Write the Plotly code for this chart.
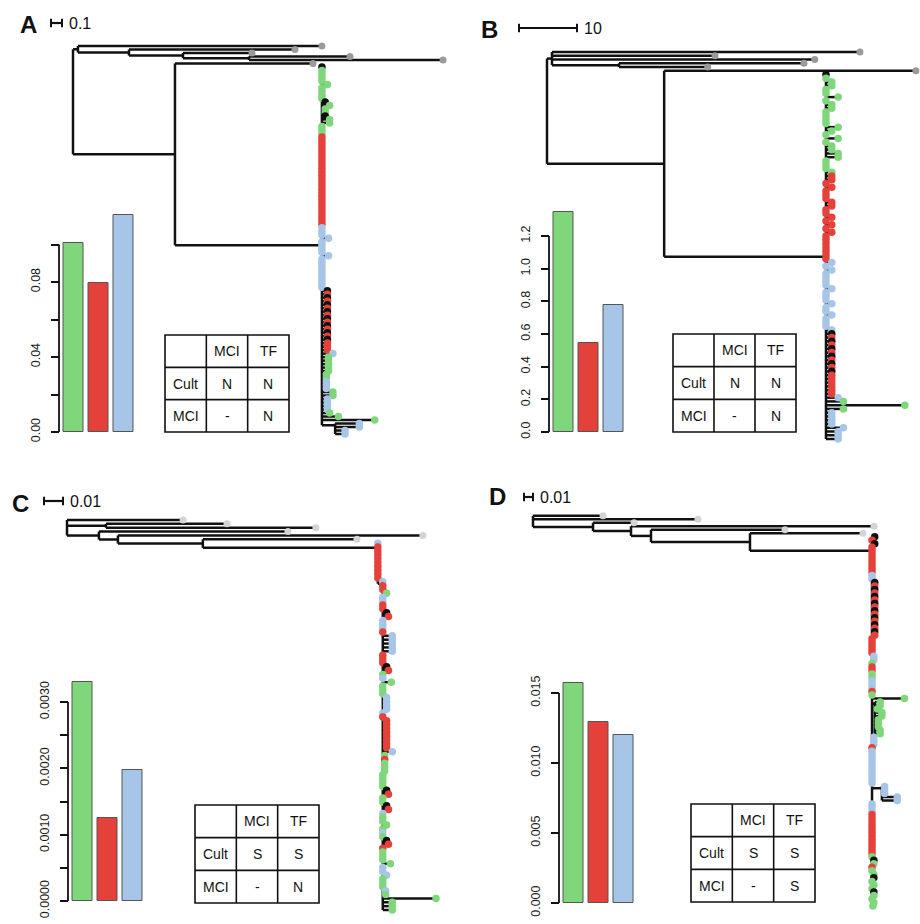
import plotly.graph_objects as go

# ======================= DATA =======================
groups = ["Cult", "MCI", "TF"]

A_bar_values = [0.101, 0.0795, 0.116]
B_bar_values = [1.347, 0.545, 0.778]
C_bar_values = [0.0033, 0.00125, 0.00198]
D_bar_values = [0.01571, 0.01293, 0.0120]

A_tick_values = [0.0, 0.02, 0.04, 0.06, 0.08, 0.10]
A_tick_labels = ["0.00", "", "0.04", "", "0.08", ""]
B_tick_values = [0.0, 0.2, 0.4, 0.6, 0.8, 1.0, 1.2]
B_tick_labels = ["0.0", "0.2", "0.4", "0.6", "0.8", "1.0", "1.2"]
C_tick_values = [0.0, 0.0005, 0.001, 0.0015, 0.002, 0.0025, 0.003]
C_tick_labels = ["0.0000", "", "0.0010", "", "0.0020", "", "0.0030"]
D_tick_values = [0.0, 0.005, 0.010, 0.015]
D_tick_labels = ["0.000", "0.005", "0.010", "0.015"]

table_header = ["", "MCI", "TF"]
A_table_rows = [["Cult", "N", "N"], ["MCI", "-", "N"]]
B_table_rows = [["Cult", "N", "N"], ["MCI", "-", "N"]]
C_table_rows = [["Cult", "S", "S"], ["MCI", "-", "N"]]
D_table_rows = [["Cult", "S", "S"], ["MCI", "-", "S"]]

A_scale_length, A_scale_label = 0.1, "0.1"
B_scale_length, B_scale_label = 10, "10"
C_scale_length, C_scale_label = 0.01, "0.01"
D_scale_length, D_scale_label = 0.01, "0.01"

# outgroup topology with branch lengths (IN = the sampled clade)
A_newick = "((o:2.218,(o:1.509,(o:0.627,(o:0.918,o:1.764):0.6):0.491):0.464):0.045,(o:1.255,IN:1.336):0.927);"
B_newick = "((o:53.1,o:28.1,o:45.3,(o:31.9,o:15.3):11.55):0.86,(o:43.4,IN:27.9):20.2);"
C_newick = "(o:0.0611,(o:0.0637,o:0.1105):0.0205,(o:0.0995,(o:0.1605,(o:0.0811,IN:0.0921):0.0447):0.01):0.0168);"
D_newick = "(o:0.0778,o:0.1833,(o:0.0456,(o:0.27,(o:0.1489,(o:0.1256,IN:0.1356):0.11):0.0222):0.0422):0.0667);"

# row (within the clade) at which the clade's root node sits
A_clade_node_row = 51
B_clade_node_row = 48.5
C_clade_node_row = 1.2
D_clade_node_row = 4

# clade tips, top to bottom: (tip colours, tip branch length, sub-clade depth)
# g = green, r = red, b = blue, k = black
A_clade_runs = [
    ("k", 0, 0), ("gggg", 0, 0), ("g", 0.05, 0), ("gggg", 0, 0), ("k", 0.03, 0), ("g", 0.07, 0),
    ("gg", 0.03, 0), ("k", 0.03, 0), ("gg", 0.07, 0), ("ggg", 0, 0),
    ("rrrrrrrrrrrrrrrrrrrrrrrrrr", 0, 0),
    ("bbb", 0, 0), ("b", 0.06, 0), ("bbbb", 0, 0), ("b", 0.06, 0), ("bbbbbbbbb", 0, 0),
    ("krkrkrkrkrkrkrkr", 0.05, 0), ("rr", 0.05, 0), ("b", 0.1, 0), ("ggggg", 0.06, 0),
    ("gg", 0.04, 0), ("bbb", 0.04, 0), ("gg", 0.1, 0), ("bbbb", 0.05, 0), ("g", 0.07, 0),
    ("g", 0.15, 0), ("g", 0.48, 0), ("bb", 0.22, 0.12), ("bb", 0.09, 0.12),
]
B_clade_runs = [
    ("k", 0, 0), ("g", 0, 0), ("gg", 1.0, 0), ("gg", 0, 0), ("g", 2.1, 0), ("g", 0, 0), ("gg", 1.0, 0),
    ("gggg", 0, 0), ("g", 2.1, 0), ("g", 1.0, 0), ("g", 0, 0), ("g", 2.1, 0), ("g", 0, 0),
    ("gg", 1.0, 0), ("gg", 2.1, 0), ("ggg", 0, 0), ("g", 1.0, 0),
    ("rr", 1.0, 0), ("r", 0, 0), ("r", 1.0, 0), ("rrr", 0, 0), ("rr", 1.0, 0), ("rr", 0, 0),
    ("r", 1.0, 0), ("r", 0, 0), ("r", 1.0, 0), ("r", 0, 0), ("r", 1.0, 0), ("rrrrrrr", 0, 0),
    ("b", 1.0, 0), ("b", 0, 0), ("b", 1.0, 0), ("bbbb", 0, 0), ("b", 1.0, 0), ("bbb", 0, 0),
    ("b", 1.0, 0), ("bb", 0, 0), ("b", 1.0, 0), ("bbb", 0, 0), ("b", 1.0, 0),
    ("krkrkrkrkrkr", 1.0, 0), ("rrrrr", 1.0, 0),
    ("b", 2.1, 0), ("g", 3.0, 0), ("g", 13.6, 0), ("g", 3.0, 0), ("bbbb", 1.0, 0), ("b", 3.0, 0),
    ("bbb", 2.1, 0),
]
C_clade_runs = [
    ("b", 0, 0), ("rrrrrrrrr", 0, 0),
    ("br", 0, 0.0026), ("r", 0, 0.0026), ("g", 0.002, 0.0026), ("bbrr", 0, 0.0026),
    ("k", 0.002, 0.0026), ("r", 0.003, 0.0026), ("bbb", 0, 0.0026), ("r", 0, 0.0026),
    ("bbbbb", 0.005, 0.0026), ("rrr", 0, 0.0026), ("k", 0.002, 0.0026), ("r", 0.003, 0.0026),
    ("gb", 0, 0.0026), ("g", 0.0045, 0.0026), ("ggg", 0, 0.0026), ("bbbb", 0.002, 0.0026),
    ("br", 0, 0.0026), ("rrrrrrrr", 0.002, 0.0026), ("b", 0.005, 0.0026), ("grg", 0.001, 0.0026),
    ("gg", 0.001, 0.0026), ("gggg", 0, 0.0026), ("k", 0.002, 0.0026), ("r", 0.003, 0.0026),
    ("gg", 0, 0.0026), ("k", 0.002, 0.0026), ("r", 0.003, 0.0026), ("bgg", 0, 0.0026),
    ("g", 0.002, 0.0026), ("gbg", 0, 0.0026), ("k", 0.002, 0.0026), ("r", 0.003, 0.0026),
    ("rggg", 0, 0.0026), ("g", 0.004, 0.0026), ("bb", 0, 0.0026), ("b", 0.002, 0.0026),
    ("ggg", 0, 0.0026), ("bg", 0.0015, 0.0026), ("g", 0.028, 0.0026), ("ggg", 0.005, 0.0026),
]
D_clade_runs = [
    ("k", 0.003, 0), ("r", 0, 0), ("k", 0.003, 0), ("rrrrrrrr", 0, 0), ("bb", 0, 0),
    ("krkrkrkrkrkrkrkr", 0.003, 0), ("rrrrr", 0, 0), ("bb", 0.002, 0), ("grrgg", 0, 0),
    ("bbb", 0, 0), ("r", 0, 0), ("g", 0, 0), ("g", 0.036, 0),
    ("gg", 0.006, 0.003), ("g", 0.003, 0.003), ("gg", 0.008, 0.003), ("ggg", 0.004, 0.003),
    ("gg", 0.006, 0.003),
    ("bbb", 0.002, 0), ("r", 0, 0), ("bbbbbbbbbb", 0, 0),
    ("bbb", 0.003, 0.011), ("bb", 0.017, 0.011),
    ("bbb", 0, 0), ("rrrrrrrrrrrr", 0, 0),
    ("g", 0, 0), ("k", 0.002, 0), ("g", 0.002, 0), ("r", 0, 0), ("g", 0, 0), ("g", 0.002, 0),
    ("k", 0.002, 0), ("g", 0, 0), ("g", 0.002, 0), ("g", 0, 0), ("k", 0.002, 0), ("g", 0.002, 0),
    ("g", 0, 0), ("g", 0.002, 0), ("g", 0.001, 0),
]

# ======================= STYLE / LAYOUT =======================
W, H = 920, 924
FONT = "Liberation Sans, Arial, Helvetica, sans-serif"
TIP_COLORS = {"g": "#7fd67b", "r": "#e5413b", "b": "#a6c5e7", "k": "#111111"}
BAR_COLORS = ["#7fd67b", "#e5413b", "#a6c5e7"]
LINE_COLOR = "#111111"


def px(x):
    return x / W


def py(y):
    return 1 - y / H


panels = [
    dict(letter="A", newick=A_newick, node_row=A_clade_node_row, runs=A_clade_runs,
         bars=A_bar_values, ticks=A_tick_values, ticklabels=A_tick_labels, table=A_table_rows,
         scale=A_scale_length, scale_label=A_scale_label, out_color="#9a9a9a",
         root_px=73, ppu=110, row0=46, rowN=434, dom_x=(0, 460), dom_y=(5, 452),
         sb=(51, 23), letter_xy=(28, 25), bar_axis=59, bar_zero=432, bar_ppu=1875, bar_top=205,
         table_box=(165, 335, 289, 432)),
    dict(letter="B", newick=B_newick, node_row=B_clade_node_row, runs=B_clade_runs,
         bars=B_bar_values, ticks=B_tick_values, ticklabels=B_tick_labels, table=B_table_rows,
         scale=B_scale_length, scale_label=B_scale_label, out_color="#9a9a9a",
         root_px=547, ppu=5.8, row0=52, rowN=439, dom_x=(460, 920), dom_y=(5, 452),
         sb=(519, 28), letter_xy=(489, 29), bar_axis=549, bar_zero=432, bar_ppu=163.3, bar_top=200,
         table_box=(673, 334, 796, 432)),
    dict(letter="C", newick=C_newick, node_row=C_clade_node_row, runs=C_clade_runs,
         bars=C_bar_values, ticks=C_tick_values, ticklabels=C_tick_labels, table=C_table_rows,
         scale=C_scale_length, scale_label=C_scale_label, out_color="#d4d4d4",
         root_px=67, ppu=1900, row0=520, rowN=910, dom_x=(0, 460), dom_y=(470, 924),
         sb=(44, 501), letter_xy=(20, 503), bar_axis=68, bar_zero=901, bar_ppu=66300, bar_top=670,
         table_box=(195, 805, 319, 903)),
    dict(letter="D", newick=D_newick, node_row=D_clade_node_row, runs=D_clade_runs,
         bars=D_bar_values, ticks=D_tick_values, ticklabels=D_tick_labels, table=D_table_rows,
         scale=D_scale_length, scale_label=D_scale_label, out_color="#d4d4d4",
         root_px=533, ppu=900, row0=515.7, rowN=906, dom_x=(460, 920), dom_y=(470, 924),
         sb=(524, 497), letter_xy=(497, 497), bar_axis=559, bar_zero=903, bar_ppu=14000, bar_top=670,
         table_box=(691, 804, 815, 902)),
]


def parse_newick(s):
    s = s.strip().rstrip(";")
    pos = [0]

    def node():
        children = []
        if s[pos[0]] == "(":
            pos[0] += 1
            while True:
                children.append(node())
                ch = s[pos[0]]
                pos[0] += 1
                if ch == ")":
                    break
        start = pos[0]
        while pos[0] < len(s) and s[pos[0]] not in ":,)":
            pos[0] += 1
        name = s[start:pos[0]]
        length = 0.0
        if pos[0] < len(s) and s[pos[0]] == ":":
            pos[0] += 1
            start = pos[0]
            while pos[0] < len(s) and s[pos[0]] not in ",)":
                pos[0] += 1
            length = float(s[start:pos[0]])
        return dict(name=name, len=length, children=children)

    return node()


def expand(runs):
    tips = []
    for cols, off, depth in runs:
        for c in cols:
            tips.append((c, off, depth))
    return tips


fig = go.Figure()
shapes, annotations = [], []
layout_axes = {}

for i, P in enumerate(panels):
    tn = i + 1
    bn = i + 5
    tx = "x" if tn == 1 else f"x{tn}"
    ty = "y" if tn == 1 else f"y{tn}"
    bx, by = f"x{bn}", f"y{bn}"

    tree = parse_newick(P["newick"])
    clade = expand(P["runs"])
    n_in = len(clade)

    lx, ly = [], []
    out_tips = []
    counter = [0]
    clade_info = {}

    def seg(x0, y0, x1, y1):
        lx.extend([x0, x1, None])
        ly.extend([y0, y1, None])

    def rec(node, xp, is_root=False):
        x = xp + node["len"]
        if node["name"] == "IN":
            first = counter[0]
            counter[0] += n_in
            y = first + P["node_row"]
            clade_info.update(x=x, first=first, y=y)
        elif node["children"]:
            ys = [rec(c, x) for c in node["children"]]
            y = (ys[0] + ys[-1]) / 2
            seg(x, ys[0], x, ys[-1])
        else:
            y = counter[0]
            counter[0] += 1
            out_tips.append((x, y))
        if not is_root:
            seg(xp, y, x, y)
        return y

    rec(tree, 0.0, True)
    n_rows = counter[0]
    spacing = (P["rowN"] - P["row0"]) / (n_rows - 1)

    # clade drawing
    xin = clade_info["x"]
    first = clade_info["first"]
    trunk_rows = [clade_info["y"]]
    dot_x, dot_y, dot_c = [], [], []
    k = 0
    while k < n_in:
        c, off, depth = clade[k]
        if depth == 0:
            r = first + k
            trunk_rows.append(r)
            if off > 0:
                seg(xin, r, xin + off, r)
            dot_x.append(xin + off)
            dot_y.append(r)
            dot_c.append(TIP_COLORS[c])
            k += 1
        else:
            j = k
            while j < n_in and clade[j][2] == depth:
                j += 1
            r0, r1 = first + k, first + j - 1
            join = r0 + 0.5
            trunk_rows.append(join)
            seg(xin, join, xin + depth, join)
            seg(xin + depth, r0, xin + depth, r1)
            for m in range(k, j):
                cc, oo, _ = clade[m]
                r = first + m
                if oo > 0:
                    seg(xin + depth, r, xin + depth + oo, r)
                dot_x.append(xin + depth + oo)
                dot_y.append(r)
                dot_c.append(TIP_COLORS[cc])
            k = j
    seg(xin, min(trunk_rows), xin, max(trunk_rows))

    # scale bar in tree units
    sbx = (P["sb"][0] - P["root_px"]) / P["ppu"]
    sby = (P["sb"][1] - P["row0"]) / spacing

    fig.add_trace(go.Scatter(x=lx, y=ly, mode="lines", line=dict(color=LINE_COLOR, width=2.5),
                             xaxis=tx, yaxis=ty, hoverinfo="skip", showlegend=False, cliponaxis=False))
    fig.add_trace(go.Scatter(x=[t[0] for t in out_tips], y=[t[1] for t in out_tips], mode="markers",
                             marker=dict(color=P["out_color"], size=7), xaxis=tx, yaxis=ty,
                             showlegend=False, cliponaxis=False))
    fig.add_trace(go.Scatter(x=dot_x, y=dot_y, mode="markers",
                             marker=dict(color=dot_c, size=7.5, line=dict(width=0)),
                             xaxis=tx, yaxis=ty, showlegend=False, cliponaxis=False))
    fig.add_trace(go.Scatter(x=[sbx, sbx + P["scale"]], y=[sby, sby], mode="lines+markers",
                             line=dict(color=LINE_COLOR, width=2.2),
                             marker=dict(symbol="line-ns", size=6, line=dict(width=2, color=LINE_COLOR)),
                             xaxis=tx, yaxis=ty, showlegend=False, cliponaxis=False))
    annotations.append(dict(x=sbx + P["scale"], y=sby, xref=tx, yref=ty, text=P["scale_label"],
                            showarrow=False, xanchor="left", yanchor="middle", xshift=5,
                            font=dict(size=16, family=FONT, color="#111")))

    x0p, x1p = P["dom_x"]
    y0p, y1p = P["dom_y"]
    layout_axes["xaxis" if tn == 1 else f"xaxis{tn}"] = dict(
        domain=[px(x0p), px(x1p)],
        range=[(x0p - P["root_px"]) / P["ppu"], (x1p - P["root_px"]) / P["ppu"]],
        visible=False, anchor=ty, automargin=False)
    layout_axes["yaxis" if tn == 1 else f"yaxis{tn}"] = dict(
        domain=[py(y1p), py(y0p)],
        range=[(y1p - P["row0"]) / spacing, (y0p - P["row0"]) / spacing],
        visible=False, anchor=tx, automargin=False)

    # bar chart
    fig.add_trace(go.Bar(x=[0, 1, 2], y=P["bars"], width=0.8,
                         marker=dict(color=BAR_COLORS, line=dict(color="#555555", width=1)),
                         xaxis=bx, yaxis=by, showlegend=False, hovertext=groups))
    left = P["bar_axis"] + 1.5
    layout_axes[f"xaxis{bn}"] = dict(domain=[px(left), px(left + 75)], range=[-0.5, 2.5],
                                     visible=False, anchor=by, automargin=False)
    layout_axes[f"yaxis{bn}"] = dict(
        domain=[py(P["bar_zero"]), py(P["bar_top"])],
        range=[0, (P["bar_zero"] - P["bar_top"]) / P["bar_ppu"]],
        anchor="free", position=px(P["bar_axis"]), showline=False, showgrid=False, zeroline=False,
        ticks="outside", ticklen=8, tickwidth=1.6, tickcolor="#111", automargin=False,
        tickvals=P["ticks"], ticktext=P["ticklabels"], tickangle=-90,
        tickfont=dict(size=12.5, family=FONT, color="#1a1a1a"), ticklabelstandoff=6)
    shapes.append(dict(type="line", xref="paper", yref=by, x0=px(P["bar_axis"]), x1=px(P["bar_axis"]),
                       y0=0, y1=P["ticks"][-1], line=dict(color="#111", width=1.8)))

    # table
    tx0, ty0, tx1, ty1 = P["table_box"]
    rows = [table_header] + P["table"]
    nr, nc = len(rows), len(table_header)
    cw = (tx1 - tx0) / nc
    rh = (ty1 - ty0) / nr
    shapes.append(dict(type="rect", xref="paper", yref="paper", x0=px(tx0), x1=px(tx1),
                       y0=py(ty1), y1=py(ty0), line=dict(color="#111", width=1.6)))
    for c in range(1, nc):
        shapes.append(dict(type="line", xref="paper", yref="paper", x0=px(tx0 + c * cw),
                           x1=px(tx0 + c * cw), y0=py(ty1), y1=py(ty0), line=dict(color="#111", width=1.6)))
    for r in range(1, nr):
        shapes.append(dict(type="line", xref="paper", yref="paper", x0=px(tx0), x1=px(tx1),
                           y0=py(ty0 + r * rh), y1=py(ty0 + r * rh), line=dict(color="#111", width=1.6)))
    for r, row in enumerate(rows):
        for c, val in enumerate(row):
            if val:
                annotations.append(dict(x=px(tx0 + (c + 0.5) * cw), y=py(ty0 + (r + 0.5) * rh),
                                        xref="paper", yref="paper", text=val, showarrow=False,
                                        xanchor="center", yanchor="middle",
                                        font=dict(size=14, family=FONT, color="#111")))

    # panel letter
    annotations.append(dict(x=px(P["letter_xy"][0]), y=py(P["letter_xy"][1]), xref="paper", yref="paper",
                            text=f"<b>{P['letter']}</b>", showarrow=False, xanchor="center",
                            yanchor="middle", font=dict(size=24, family=FONT, color="#111")))

fig.update_layout(width=W, height=H, margin=dict(l=0, r=0, t=0, b=0, pad=0, autoexpand=False),
                  autosize=False,
                  paper_bgcolor="white", plot_bgcolor="rgba(0,0,0,0)",
                  showlegend=False, shapes=shapes, annotations=annotations,
                  font=dict(family=FONT), bargap=0, **layout_axes)

PAGE_FIX = (
    "document.documentElement.style.margin='0';document.documentElement.style.padding='0';"
    "document.documentElement.style.overflow='hidden';"
    "document.body.style.margin='0';document.body.style.padding='0';document.body.style.overflow='hidden';"
    "var gd=document.getElementsByClassName('plotly-graph-div')[0];"
    "gd.style.position='absolute';gd.style.left='0px';gd.style.top='0px';"
)

fig.write_html("out.html", config={"displayModeBar": False, "responsive": False},
               post_script=PAGE_FIX)
